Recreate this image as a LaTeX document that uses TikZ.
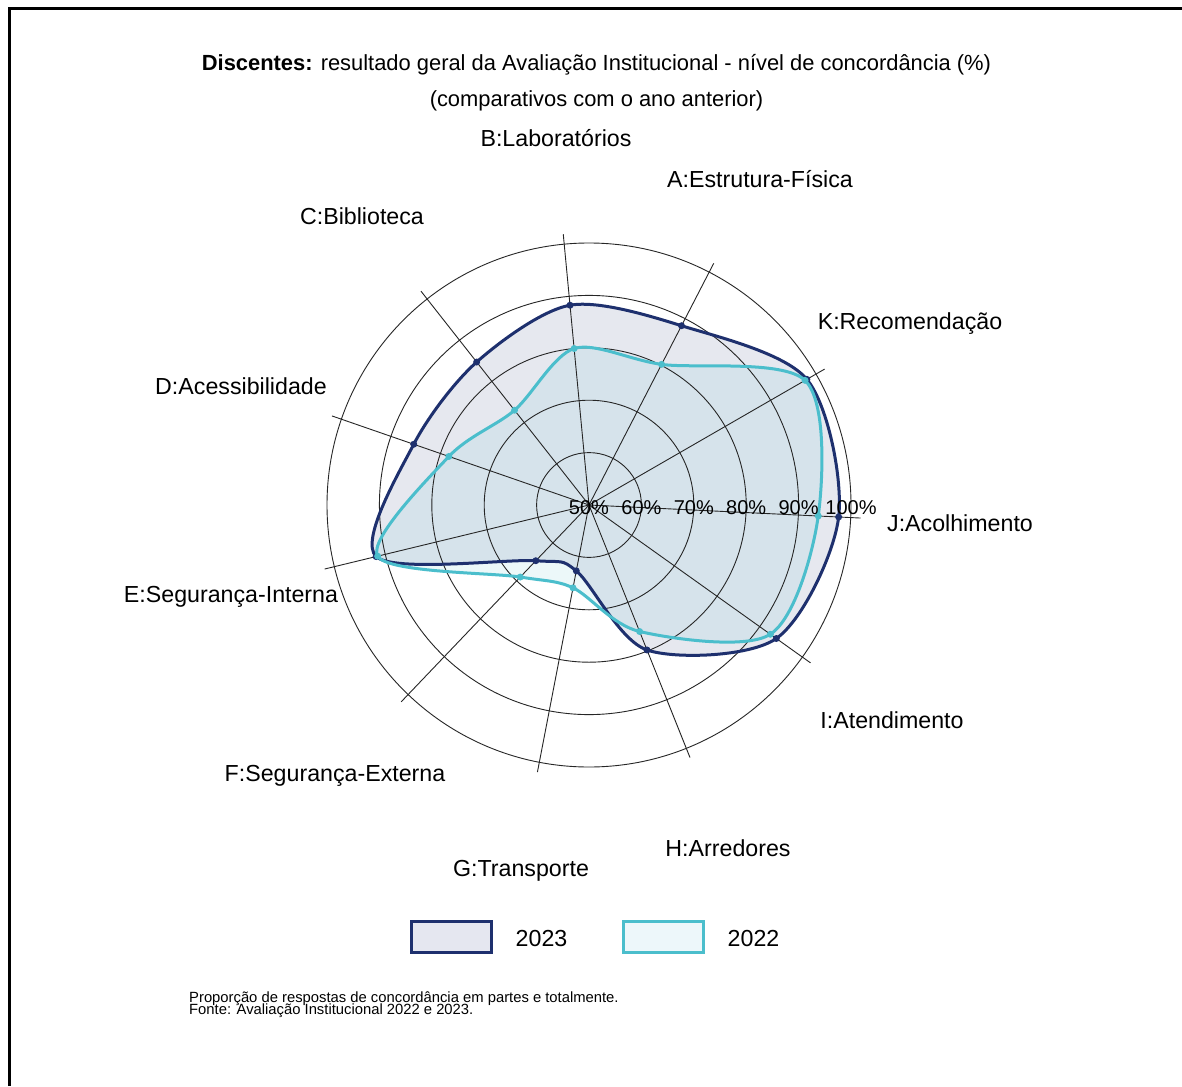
\documentclass[tikz,border=0pt]{standalone}
\usepackage{fontspec}
\setmainfont{Liberation Sans}
\definecolor{navy}{RGB}{30,48,110}
\definecolor{tealc}{RGB}{75,190,204}
\definecolor{fillA}{RGB}{229,231,240}
\definecolor{fillB}{RGB}{237,247,250}
\begin{document}
\begin{tikzpicture}[x=1pt,y=-1pt,
  lbl/.style={font=\fontsize{23.2}{27}\selectfont, inner sep=0pt, anchor=base},
  ttl/.style={font=\fontsize{21.9}{26}\selectfont, inner sep=0pt, anchor=base},
  ticklbl/.style={font=\fontsize{20}{24}\selectfont, inner sep=0pt, anchor=base},
  note/.style={font=\fontsize{14.8}{13}\selectfont, inner sep=0pt, anchor=base west},
  gridline/.style={draw=black!85, line width=0.9pt},
  ser23/.style={draw=navy, line width=3pt},
  ser22/.style={draw=tealc, line width=3pt},
  legbox/.style={line width=3pt, minimum width=80pt, minimum height=31pt, inner sep=0pt}]
\useasboundingbox (0,0) rectangle (1182,1086);
\fill[white] (0,0) rectangle (1182,1086);
% frame
\draw[line width=3pt] (9.5,1086) -- (9.5,8.5) -- (1182,8.5);
% title
\node[ttl] (title) at (596.5,71) {\textbf{Discentes:} resultado geral da Avaliação Institucional - nível de concordância (\%)};
\node[ttl] (subtitle) at (596.5,107) {(comparativos com o ano anterior)};
% chart
\begin{scope}[shift={(589,505)}, yscale=-1]
  \foreach \v [count=\i from 0] in {97.7,98.0,88.5,88.3,84.7,85.4,91.8,64.7,62.8,79.8,93.9}
    \coordinate (n\i) at ({-2.75+\i*360/11}:{(\v-50)*5.24});
  \foreach \v [count=\i from 0] in {93.8,97.6,80.2,80.0,73.0,78.3,91.5,69.0,66.1,76.0,92.5}
    \coordinate (m\i) at ({-2.75+\i*360/11}:{(\v-50)*5.24});
  \coordinate (ctr) at (0,0);
  \fill[navy, opacity=0.11] plot[smooth cycle, tension=0.5] coordinates {(n0) (n1) (n2) (n3) (n4) (n5) (n6) (n7) (n8) (n9) (n10)};
  \fill[tealc, opacity=0.10] plot[smooth cycle, tension=0.5] coordinates {(m0) (m1) (m2) (m3) (m4) (m5) (m6) (m7) (m8) (m9) (m10)};
  \foreach \k in {1,...,5} \draw[gridline] (ctr) circle[radius=\k*52.4];
  \foreach \i in {0,...,10} {
    \coordinate (s\i) at ({-2.75+\i*360/11}:272);
    \draw[gridline] (ctr) -- (s\i);
  }
  \draw[ser23] plot[smooth cycle, tension=0.5] coordinates {(n0) (n1) (n2) (n3) (n4) (n5) (n6) (n7) (n8) (n9) (n10)};
  \foreach \i in {0,...,10} \fill[navy] (n\i) circle[radius=3.5];
  \draw[ser22] plot[smooth cycle, tension=0.5] coordinates {(m0) (m1) (m2) (m3) (m4) (m5) (m6) (m7) (m8) (m9) (m10)};
  \foreach \i in {0,...,10} \fill[tealc] (m\i) circle[radius=3.5];
\end{scope}
% tick labels
\node[ticklbl] (t50) at (589,514) {50\%};
\node[ticklbl] (t60) at (641.4,514) {60\%};
\node[ticklbl] (t70) at (693.8,514) {70\%};
\node[ticklbl] (t80) at (746.2,514) {80\%};
\node[ticklbl] (t90) at (798.6,514) {90\%};
\node[ticklbl] (t100) at (851,514) {100\%};
% axis labels
\node[lbl] (lB) at (556,147) {B:Laboratórios};
\node[lbl] (lA) at (760,187) {A:Estrutura-Física};
\node[lbl] (lC) at (362,224) {C:Biblioteca};
\node[lbl] (lK) at (910,329) {K:Recomendação};
\node[lbl] (lD) at (241,394) {D:Acessibilidade};
\node[lbl] (lJ) at (960,531) {J:Acolhimento};
\node[lbl] (lE) at (231,602) {E:Segurança-Interna};
\node[lbl] (lI) at (892,728) {I:Atendimento};
\node[lbl] (lF) at (335,781) {F:Segurança-Externa};
\node[lbl] (lH) at (728,856) {H:Arredores};
\node[lbl] (lG) at (521,876) {G:Transporte};
% legend
\node[legbox, draw=navy, fill=fillA] (leg23) at (451.5,937) {};
\node[lbl] (leg23t) at (541.5,946) {2023};
\node[legbox, draw=tealc, fill=fillB] (leg22) at (663.5,937) {};
\node[lbl] (leg22t) at (753.5,946) {2022};
% notes
\node[note] (note1) at (189,1002) {Proporção de respostas de concordância em partes e totalmente.};
\node[note] (note2) at (189,1014.5) {Fonte: Avaliação Institucional 2022 e 2023.};
\end{tikzpicture}
\end{document}
